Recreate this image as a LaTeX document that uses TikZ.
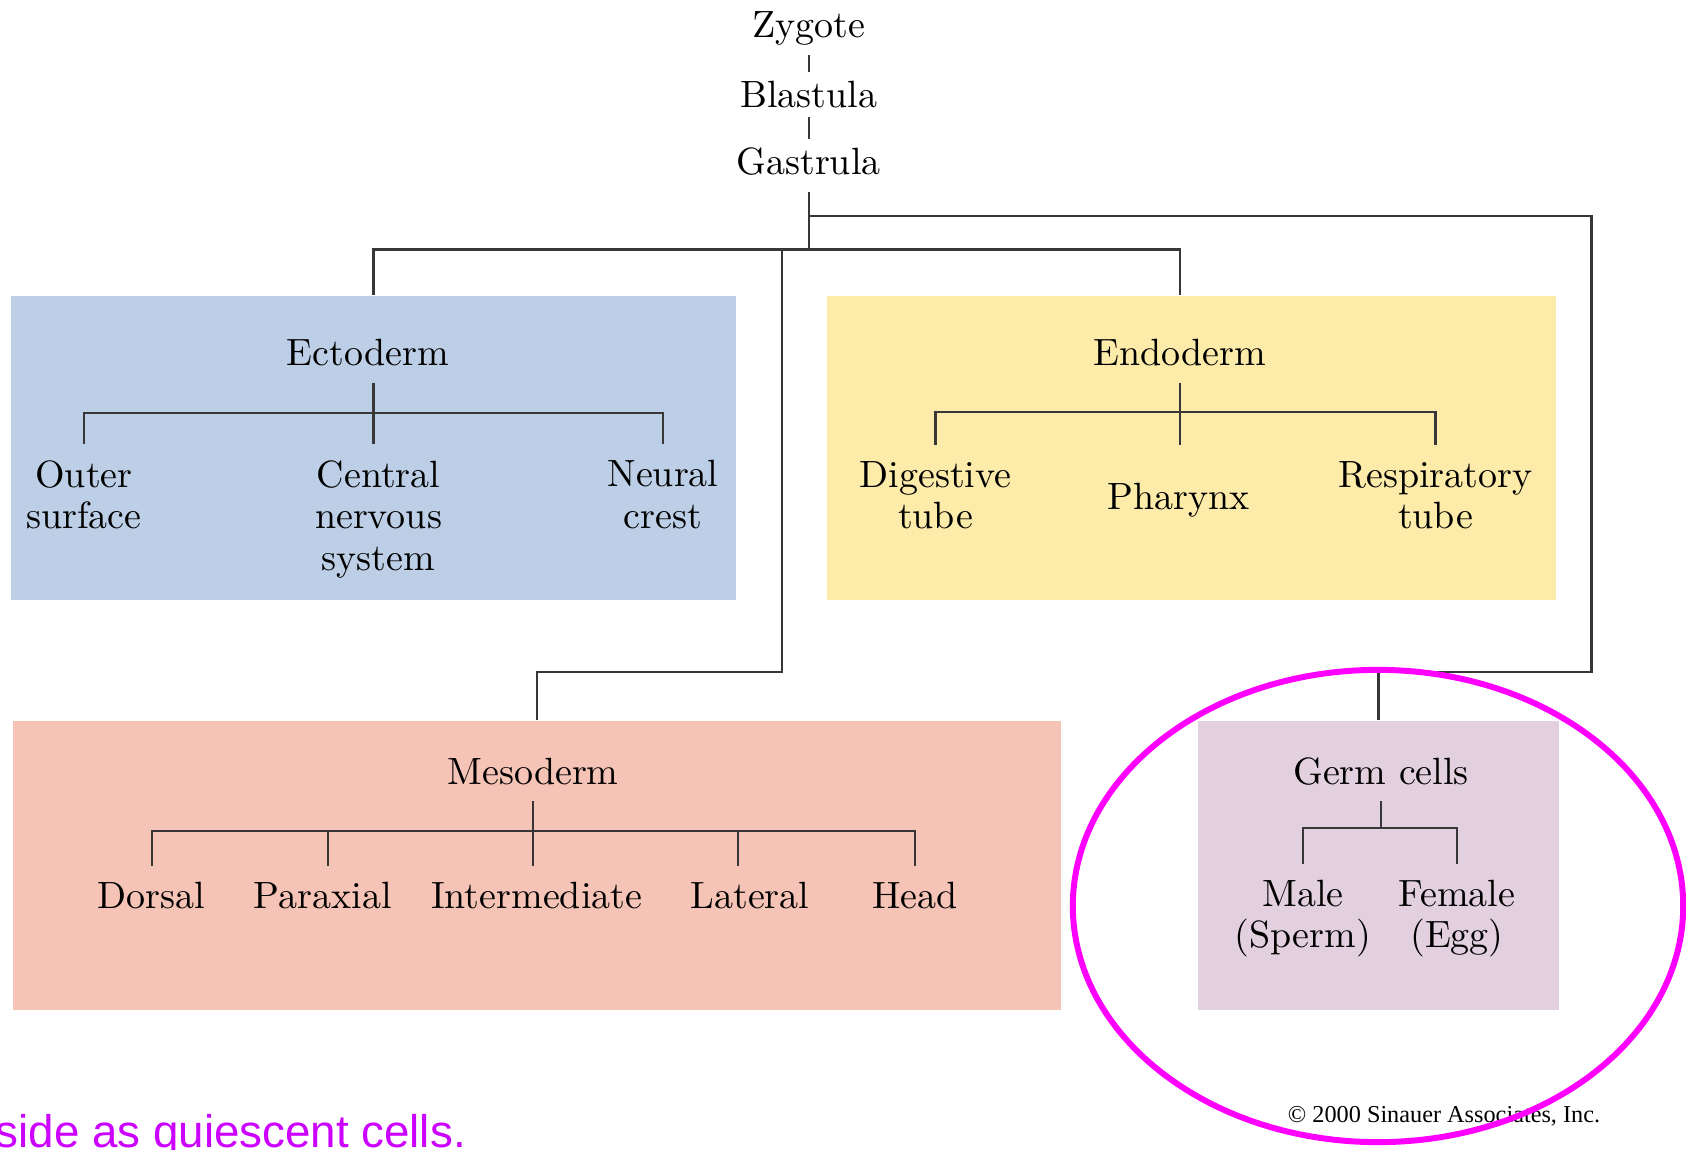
\documentclass[tikz,border=0pt]{standalone}
\usepackage{fontspec}
\newfontfamily\notefont{Liberation Sans}
\newfontfamily\creditfont{Liberation Serif}
\usetikzlibrary{fit}
\definecolor{ectoblue}{RGB}{189,207,230}
\definecolor{endoyellow}{RGB}{253,235,170}
\definecolor{mesopink}{RGB}{246,196,182}
\definecolor{germlilac}{RGB}{226,208,222}
\definecolor{linkgray}{RGB}{55,55,55}
\definecolor{ringmagenta}{RGB}{255,0,255}
\definecolor{notepurple}{RGB}{204,0,255}

\begin{document}
\begin{tikzpicture}[x=0.01cm, y=-0.01cm,
  font=\fontsize{10.8}{11.8}\selectfont,
  link/.style={draw=linkgray, line width=0.6pt},
  layer/.style={draw=none, inner sep=0pt},
  stage/.style={anchor=base, inner xsep=1pt, inner ysep=2.5pt},
  title/.style={anchor=base, inner xsep=1pt, inner ysep=4.5pt},
  leaf/.style={anchor=north, align=center, inner xsep=1pt, inner ysep=4.5pt}]
  \useasboundingbox (0,0) rectangle (1686,1149);%枠
  \clip (0,0) rectangle (1686,1149);
  % 胚葉の箱
  \node[layer, fill=ectoblue, fit={(11,296) (736,600)}] (ectobox) {};
  \node[layer, fill=endoyellow, fit={(827,296) (1556,600)}] (endobox) {};
  \node[layer, fill=mesopink, fit={(13,721) (1061,1010)}] (mesobox) {};
  \node[layer, fill=germlilac, fit={(1198,721) (1559,1010)}] (germbox) {};
  % 上段
  \node[stage] (zyg) at (808.6,37.6) {Zygote};
  \node[stage] (bla) at (808.6,107.5) {Blastula};
  \node[stage] (gas) at (808.6,175) {Gastrula};
  \draw[link] (zyg) -- (bla);
  \draw[link] (bla) -- (gas);
  \coordinate (fork) at (808.6,249.5);
  \coordinate (germfork) at (808.6,216);
  \coordinate (mesofork) at (781.7,249.5);
  \coordinate (rimcorner) at (1591.5,216);
  \draw[link, shorten <=2pt] (gas) -- (fork);
  % 外胚葉
  \node[title] (ecto) at (368,365.6) {Ectoderm};
  \node[leaf] (outer) at (84,444) {Outer\\surface};
  \node[leaf] (cns) at (378.5,444) {Central\\nervous\\system};
  \node[leaf] (neural) at (663,444) {Neural\\crest};
  \draw[link] (outer.north) -- ++(0,-31) -| (neural.north);
  \draw[link] (ectobox.north |- ecto.south) -- (ectobox.north |- cns.north);
  % 内胚葉
  \node[title] (endo) at (1180,365.6) {Endoderm};
  \node[leaf] (digest) at (935.5,445) {Digestive\\tube};
  \node[leaf] (pharynx) at (1178.5,467) {Pharynx};
  \node[leaf] (resp) at (1435.5,445) {Respiratory\\tube};
  \draw[link] (digest.north) -- ++(0,-33) -| (resp.north);
  \draw[link] (endo.south) -- (endo.south |- digest.north);
  % 中胚葉
  \node[title] (meso) at (533,784) {Mesoderm};
  \node[leaf] (dorsal) at (151.6,866) {Dorsal};
  \node[leaf] (paraxial) at (322.6,866) {Paraxial};
  \node[leaf] (inter) at (536.6,866) {Intermediate};
  \node[leaf] (lateral) at (750,866) {Lateral};
  \node[leaf] (head) at (915,866) {Head};
  \draw[link] (dorsal.north) -- ++(0,-35) -| (head.north);
  \draw[link] (meso.south) -- (meso.south |- inter.north);
  \draw[link] ([xshift=1.5pt]paraxial.north) -- ++(0,-35);
  \draw[link] ([xshift=-3.4pt]lateral.north) -- ++(0,-35);
  % 生殖細胞
  \node[title] (germ) at (1381,784) {Germ cells};
  \node[leaf] (male) at (1303,863.5) {Male\\(Sperm)};
  \node[leaf] (female) at (1457,863.5) {Female\\(Egg)};
  \draw[link] (male.north) -- ++(0,-35.5) -| (female.north);
  \draw[link] (germ.south) -- ++(0,28);
  % 分岐線
  \draw[link] (ectobox.north) |- (fork) -| (endobox.north -| endo);
  \draw[link] (mesofork) |- ([yshift=13.8pt]mesobox.north) -- (mesobox.north);
  \draw[link] (germfork) -- (rimcorner) |- ([yshift=13.8pt]germbox.north) -- (germbox.north);
  % 注記
  \node[inner sep=0pt, font=\creditfont\fontsize{6.9}{8}\selectfont] (credit) at (1444,1116) {\textcopyright{} 2000 Sinauer Associates, Inc.};
  \draw[ringmagenta, line width=1.7pt] (1378,906) ellipse [x radius=3.05cm, y radius=2.36cm];
  \node[anchor=base west, inner sep=0pt, text=notepurple, font=\notefont\fontsize{13}{15}\selectfont] (note) at (-5,1147) {side as quiescent cells.};
\end{tikzpicture}
\end{document}
